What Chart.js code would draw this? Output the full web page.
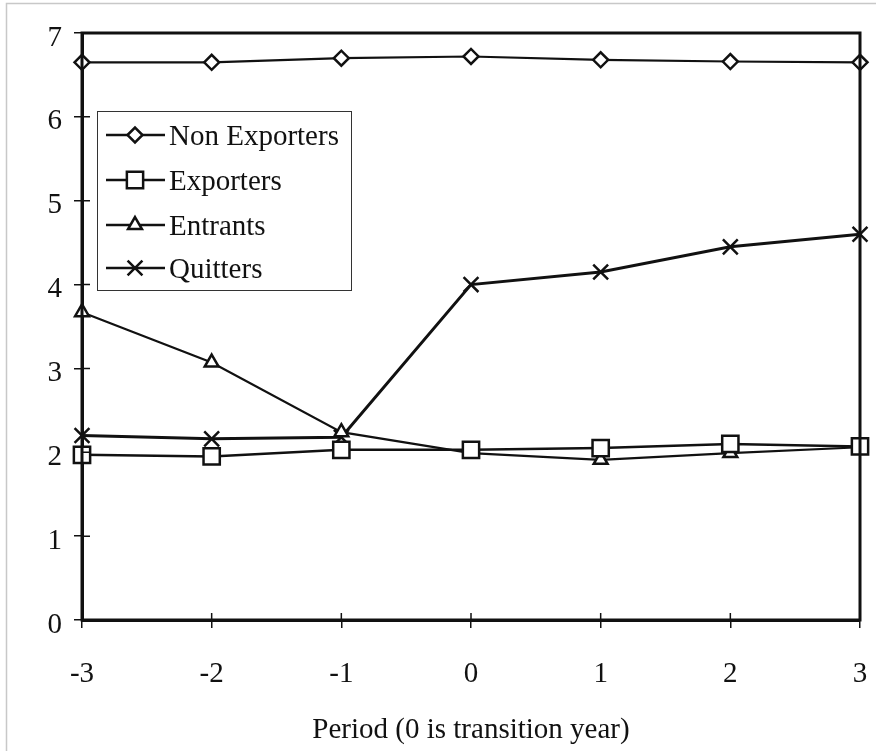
<!DOCTYPE html>
<html>
<head>
<meta charset="utf-8">
<script src="https://cdn.jsdelivr.net/npm/chart.js@4"></script>
<style>
  html, body { margin: 0; padding: 0; background: #fff; }
  #wrap { width: 876px; height: 751px; }
</style>
</head>
<body>
<div id="wrap"><canvas id="chart" width="876" height="751"></canvas></div>
<script>
const periods = ['-3', '-2', '-1', '0', '1', '2', '3'];
const yTicks = [0, 1, 2, 3, 4, 5, 6, 7];
const nonExporters = [6.65, 6.65, 6.70, 6.72, 6.68, 6.66, 6.65];
const exporters = [1.97, 1.95, 2.03, 2.03, 2.05, 2.10, 2.07];
const entrants = [3.67, 3.07, 2.24, 1.99, 1.91, 1.99, 2.06];
const quitters = [2.20, 2.16, 2.18, 4.00, 4.15, 4.45, 4.60];

const ink = '#111';
const serif = '"Liberation Serif", "Times New Roman", serif';
const fontSize = 29;

function series(label, data, style, radius, width) {
    return {
        label: label,
        data: data,
        borderColor: ink,
        borderWidth: width,
        pointStyle: style,
        pointRadius: radius,
        pointHoverRadius: radius,
        pointBackgroundColor: '#fff',
        pointBorderColor: ink,
        pointBorderWidth: 2.5,
        tension: 0
    };
}

// frame of the page, box round the plot, inner tick marks and the legend
const decor = {
    id: 'decor',
    beforeDraw(chart) {
        const ctx = chart.ctx;
        ctx.save();
        ctx.strokeStyle = '#c8c8c8';
        ctx.lineWidth = 1.5;
        ctx.beginPath();
        ctx.moveTo(6.5, 751);
        ctx.lineTo(6.5, 3.5);
        ctx.lineTo(876, 3.5);
        ctx.stroke();
        ctx.restore();
    },
    afterDraw(chart) {
        const ctx = chart.ctx;
        const a = chart.chartArea;
        const xs = chart.scales.x, ys = chart.scales.y;
        ctx.save();
        ctx.strokeStyle = ink;
        ctx.lineWidth = 3;
        ctx.strokeRect(a.left, a.top, a.right - a.left, a.bottom - a.top);
        ctx.lineWidth = 1.5;
        ctx.beginPath();
        periods.forEach((p, i) => {
            const x = xs.getPixelForValue(i);
            ctx.moveTo(x, a.bottom);
            ctx.lineTo(x, a.bottom - 7);
        });
        yTicks.forEach(v => {
            const y = ys.getPixelForValue(v);
            ctx.moveTo(a.left, y);
            ctx.lineTo(a.left + 8, y);
        });
        ctx.stroke();

        // legend
        const box = { l: 97, t: 111, r: 351, b: 290 };
        ctx.lineWidth = 1;
        ctx.strokeStyle = '#333';
        ctx.strokeRect(box.l + 0.5, box.t + 0.5, box.r - box.l, box.b - box.t);
        const rows = [135, 180, 225, 268];
        ctx.font = fontSize + 'px ' + serif;
        ctx.fillStyle = ink;
        ctx.textBaseline = 'middle';
        chart.data.datasets.forEach((ds, i) => {
            const y = rows[i];
            ctx.strokeStyle = ink;
            ctx.lineWidth = 2.5;
            ctx.beginPath();
            ctx.moveTo(106, y);
            ctx.lineTo(165, y);
            ctx.stroke();
            ctx.fillStyle = '#fff';
            ctx.lineWidth = 2.5;
            Chart.helpers.drawPoint(ctx, { pointStyle: ds.pointStyle, radius: ds.pointRadius, rotation: 0, borderWidth: 2.5 }, 135, y);
            ctx.fillStyle = ink;
            ctx.fillText(ds.label, 169, y + 2);
        });
        ctx.restore();
    }
};

new Chart(document.getElementById('chart'), {
    type: 'line',
    data: {
        labels: periods,
        datasets: [
            series('Non Exporters', nonExporters, 'rectRot', 7.5, 2.2),
            series('Exporters', exporters, 'rect', 11.5, 2.5),
            series('Entrants', entrants, 'triangle', 8, 2.2),
            series('Quitters', quitters, 'crossRot', 10.5, 3)
        ]
    },
    options: {
        responsive: false,
        animation: false,
        layout: { padding: { left: 0, top: 33, right: 16, bottom: 0 } },
        plugins: {
            legend: { display: false },
            tooltip: { enabled: false }
        },
        scales: {
            x: {
                offset: false,
                grid: { drawOnChartArea: false, drawTicks: true, tickLength: 8, color: ink, lineWidth: 1.5 },
                border: { display: true, color: ink, width: 3 },
                ticks: { color: ink, font: { family: serif, size: fontSize }, padding: 29, maxRotation: 0 },
                title: { display: true, text: 'Period (0 is transition year)', color: ink,
                         font: { family: serif, size: fontSize }, padding: { top: 0, bottom: 3 } },
                afterFit(scale) {
                    scale.height = 131;
                    scale.paddingLeft = 0;
                    scale.paddingRight = 0;
                }
            },
            y: {
                min: 0,
                max: 7,
                grid: { drawOnChartArea: false, drawTicks: true, tickLength: 8, color: ink, lineWidth: 1.5 },
                border: { display: true, color: ink, width: 3 },
                ticks: { stepSize: 1, color: ink, font: { family: serif, size: fontSize }, padding: 12, labelOffset: 5 },
                afterFit(scale) {
                    scale.width = 82;
                    scale.paddingTop = 0;
                    scale.paddingBottom = 0;
                }
            }
        }
    },
    plugins: [decor]
});
</script>
</body>
</html>
